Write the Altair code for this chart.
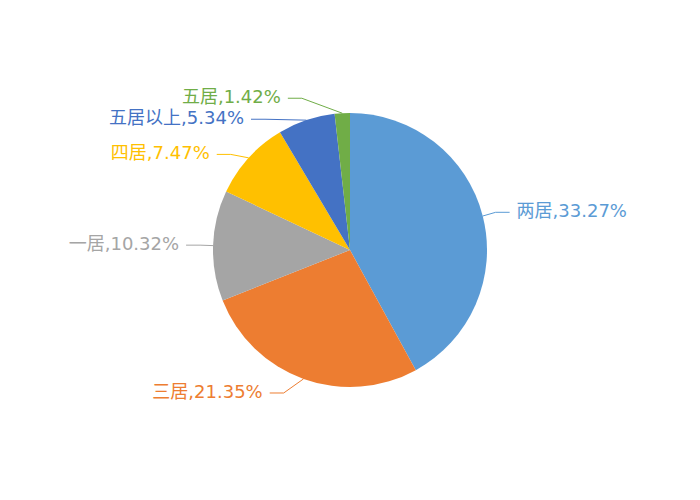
import math
import altair as alt
import pandas as pd

categories = ["两居", "三居", "一居", "四居", "五居以上", "五居"]
shares = [33.27, 21.35, 10.32, 7.47, 5.34, 1.42]
colors = ["#5b9bd5", "#ed7d31", "#a5a5a5", "#ffc000", "#4472c4", "#70ad47"]

W, H = 684, 484
CX, CY = W / 2, H / 2
R = 137          # pie radius in px
L1, L2 = 15, 14  # label line lengths
RLINE = R + 27
GAP = 7
LABEL_H = 21

total = sum(shares)
items = []
acc = 0.0
for i, (c, v) in enumerate(zip(categories, shares)):
    a = 2 * math.pi * (acc + v / 2) / total
    acc += v
    s, co = math.sin(a), math.cos(a)
    items.append({
        "cat": c, "val": v, "idx": i,
        "ex": R * s, "ey": -R * co,               # screen coords, y down
        "y": -(R + L1) * co,
        "dir": 1 if s >= 0 else -1,
    })


def adjust(side):
    side.sort(key=lambda d: d["y"])
    n = len(side)

    def shift_up(end, delta):
        for j in range(end, -1, -1):
            side[j]["y"] -= delta
            if j > 0 and side[j]["y"] > side[j - 1]["y"] + LABEL_H:
                break

    def shift_down(start, end, delta):
        for j in range(start, end):
            side[j]["y"] += delta
            if j > start and j + 1 < end and side[j + 1]["y"] > side[j]["y"] + LABEL_H:
                shift_up(j, delta / 2)
                return
        shift_up(end - 1, delta / 2)

    last = -CY
    for j in range(n):
        delta = side[j]["y"] - last
        if delta < 0:
            shift_down(j, n, -delta)
        last = side[j]["y"] + LABEL_H


adjust([d for d in items if d["dir"] > 0])
adjust([d for d in items if d["dir"] < 0])

line_rows, text_rows = [], []
for d in items:
    y = d["y"]
    dx = math.sqrt(RLINE ** 2 - y ** 2) if abs(y) < RLINE else abs(d["ex"]) + L1 + L2
    end_x = d["dir"] * dx
    elbow_x = end_x - d["dir"] * L2
    for k, (px, py) in enumerate([(d["ex"], d["ey"]), (elbow_x, y), (end_x, y)]):
        line_rows.append({"cat": d["cat"], "seq": k, "px": px, "py": -py})
    text_rows.append({
        "cat": d["cat"], "px": end_x + d["dir"] * GAP, "py": -y,
        "side": "right" if d["dir"] > 0 else "left",
        "label": f"{d['cat']},{d['val']:.2f}%",
    })

pie_df = pd.DataFrame({"cat": categories, "val": shares, "idx": list(range(len(categories)))})
line_df = pd.DataFrame(line_rows)
text_df = pd.DataFrame(text_rows)

color = alt.Color("cat:N", scale=alt.Scale(domain=categories, range=colors), legend=None)
xs = alt.Scale(domain=[-CX, CX], nice=False, zero=False)
ys = alt.Scale(domain=[-CY, CY], nice=False, zero=False)

pie = alt.Chart(pie_df).mark_arc(radius=R).encode(
    theta=alt.Theta("val:Q", stack=True),
    color=color,
    order=alt.Order("idx:Q", sort="ascending"),
)

lines = alt.Chart(line_df).mark_line(strokeWidth=1).encode(
    x=alt.X("px:Q", scale=xs, axis=None),
    y=alt.Y("py:Q", scale=ys, axis=None),
    color=color,
    detail="cat:N",
    order="seq:Q",
)

text_common = dict(font="DejaVu Sans, Noto Sans CJK SC", fontSize=18, baseline="middle")
text_right = alt.Chart(text_df).transform_filter(alt.datum.side == "right").mark_text(
    align="left", **text_common
).encode(
    x=alt.X("px:Q", scale=xs, axis=None),
    y=alt.Y("py:Q", scale=ys, axis=None),
    text="label:N",
    color=color,
)
text_left = alt.Chart(text_df).transform_filter(alt.datum.side == "left").mark_text(
    align="right", **text_common
).encode(
    x=alt.X("px:Q", scale=xs, axis=None),
    y=alt.Y("py:Q", scale=ys, axis=None),
    text="label:N",
    color=color,
)

chart = alt.layer(pie, lines, text_right, text_left).properties(
    width=W, height=H, padding=0, autosize=alt.AutoSizeParams(type="none")
).configure_view(stroke=None)

chart.save("out.html", embed_options={"renderer": "svg", "actions": False})
